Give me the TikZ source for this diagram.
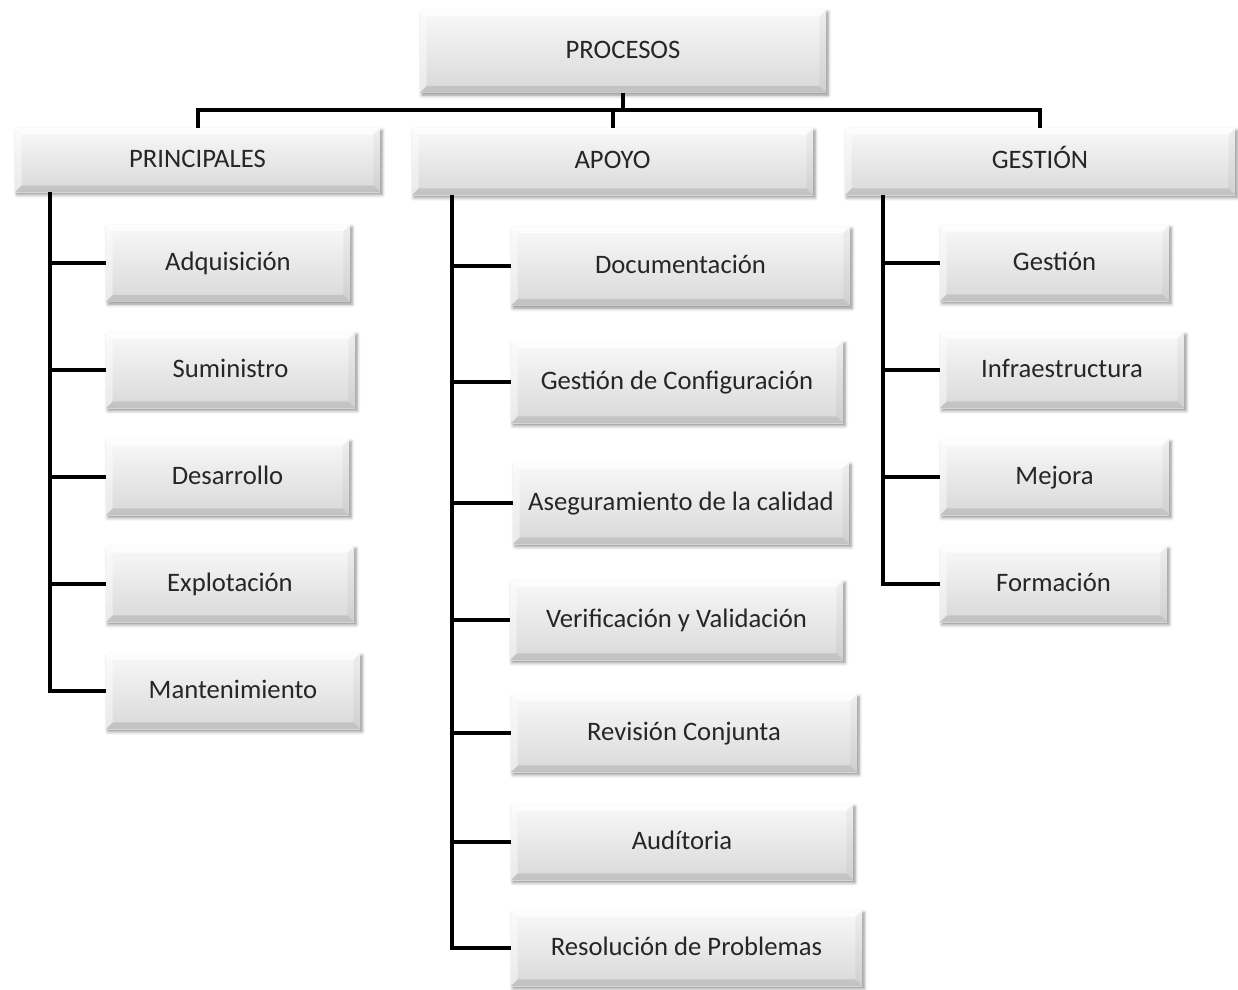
\documentclass[tikz,border=0pt]{standalone}
\usepackage{fontspec}
\setmainfont{Carlito}
\usetikzlibrary{calc,shadows.blur}

\newcommand{\bvl}{5pt}
\tikzset{
  box/.style={rectangle, inner sep=0pt, shading=axis,
    top color=gray!5, bottom color=gray!30,
    blur shadow={shadow xshift=1.5pt, shadow yshift=-2pt, shadow blur radius=2.5pt, shadow opacity=45},
    font=\fontsize{20}{24}\selectfont, text=black!85,
    text height=1.1em, text depth=0em,
    path picture={
      % bevelled edges: light top and left, darker right and bottom
      \fill[white, opacity=0.8] (path picture bounding box.north west) -- (path picture bounding box.north east)
        -- ($(path picture bounding box.north east)+(-\bvl,-\bvl)$) -- ($(path picture bounding box.north west)+(\bvl,-\bvl)$) -- cycle;
      \fill[white, opacity=0.45] (path picture bounding box.north west) -- (path picture bounding box.south west)
        -- ($(path picture bounding box.south west)+(\bvl,\bvl)$) -- ($(path picture bounding box.north west)+(\bvl,-\bvl)$) -- cycle;
      \fill[black, opacity=0.04] (path picture bounding box.north east) -- (path picture bounding box.south east)
        -- ($(path picture bounding box.south east)+(-\bvl,\bvl)$) -- ($(path picture bounding box.north east)+(-\bvl,-\bvl)$) -- cycle;
      \fill[black, opacity=0.10] (path picture bounding box.south west) -- (path picture bounding box.south east)
        -- ($(path picture bounding box.south east)+(-\bvl,\bvl)$) -- ($(path picture bounding box.south west)+(\bvl,\bvl)$) -- cycle;
    }},
  sz/.style 2 args={minimum width=#1*0.75pt, minimum height=#2*0.75pt},
  conn/.style={line width=3pt, black}
}

\begin{document}
\begin{tikzpicture}[x=0.75pt, y=-0.75pt]
\useasboundingbox (0,0) rectangle (1238,989);

% top level
\node[box, sz={406}{83}] (proc) at (623,51) {PROCESOS};

% second level
\node[box, sz={365}{64}] (prin) at (197.5,160) {PRINCIPALES};
\node[box, sz={401}{67}] (apoyo) at (612.5,161.5) {APOYO};
\node[box, sz={390}{67}] (gest) at (1040,161.5) {GESTIÓN};

% PRINCIPALES branch
\node[box, sz={244}{77}] (p1) at (228,263) {Adquisición};
\node[box, sz={249}{76}] (p2) at (230.5,370) {Suministro};
\node[box, sz={243}{76}] (p3) at (227.5,477) {Desarrollo};
\node[box, sz={248}{76}] (p4) at (230,584) {Explotación};
\node[box, sz={254}{76}] (p5) at (233,691) {Mantenimiento};

% APOYO branch
\node[box, sz={339}{79}] (a1) at (680.5,266) {Documentación};
\node[box, sz={332}{82}] (a2) at (677,382) {Gestión de Configuración};
\node[box, sz={336}{82}] (a3) at (681,503) {Aseguramiento de la calidad};
\node[box, sz={333}{80}] (a4) at (676.5,620) {Verificación y Validación};
\node[box, sz={346}{78}] (a5) at (684,733) {Revisión Conjunta};
\node[box, sz={342}{76}] (a6) at (682,842) {Audítoria};
\node[box, sz={351}{76}] (a7) at (686.5,948) {Resolución de Problemas};

% GESTIÓN branch
\node[box, sz={229}{76}] (g1) at (1054.5,263) {Gestión};
\node[box, sz={244}{76}] (g2) at (1062,370) {Infraestructura};
\node[box, sz={229}{76}] (g3) at (1054.5,477) {Mejora};
\node[box, sz={227}{76}] (g4) at (1053.5,584) {Formación};

% connectors
\coordinate (bus) at (0,110);
\draw[conn] (proc.south) -- (proc.south |- bus);
\draw[conn] (prin.north) -- (prin.north |- bus) -- (gest.north |- bus) -- (gest.north);
\draw[conn] (apoyo.north) -- (apoyo.north |- bus);

\coordinate (sp) at ([xshift=35*0.75pt]prin.south west);
\coordinate (sa) at ([xshift=40*0.75pt]apoyo.south west);
\coordinate (sg) at ([xshift=38*0.75pt]gest.south west);

\draw[conn] (sp) |- (p5.west);
\foreach \n in {p1,p2,p3,p4} \draw[conn] (\n.west) -- (\n.west -| sp);

\draw[conn] (sa) |- (a7.west);
\foreach \n in {a1,a2,a3,a4,a5,a6} \draw[conn] (\n.west) -- (\n.west -| sa);

\draw[conn] (sg) |- (g4.west);
\foreach \n in {g1,g2,g3} \draw[conn] (\n.west) -- (\n.west -| sg);
\end{tikzpicture}
\end{document}
